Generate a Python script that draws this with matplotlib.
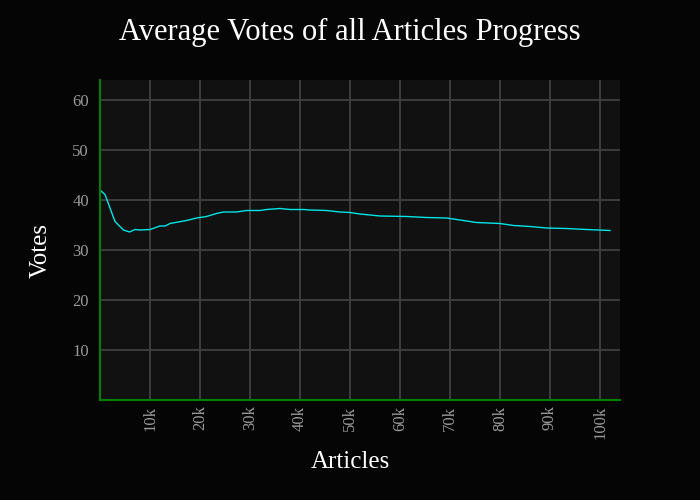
import numpy as np
import matplotlib
matplotlib.use("Agg")
import matplotlib.pyplot as plt

# Running average of votes (articles in thousands)
articles_k = [0.0, 1.0, 3.0, 4.7, 5.9, 7.0, 8.0, 10.0, 12.0, 13.0, 14.0, 17.3,
              19.3, 21.3, 23.3, 24.7, 27.3, 29.3, 32.0, 33.3, 36.0, 38.0, 40.7,
              42.0, 45.3, 48.0, 50.0, 52.0, 56.0, 61.3, 65.3, 69.3, 72.0, 75.3,
              80.0, 82.7, 86.0, 89.3, 93.3, 97.3, 102.0]
avg_votes = [42.0, 41.1, 35.7, 34.0, 33.6, 34.1, 34.0, 34.1, 34.8, 34.8, 35.3,
             35.9, 36.4, 36.7, 37.3, 37.6, 37.6, 37.9, 37.9, 38.1, 38.3, 38.1,
             38.1, 38.0, 37.9, 37.6, 37.5, 37.2, 36.8, 36.7, 36.5, 36.4, 36.0,
             35.5, 35.3, 34.9, 34.7, 34.4, 34.3, 34.1, 33.9]

x_ticks = [10, 20, 30, 40, 50, 60, 70, 80, 90, 100]
x_ticklabels = ["10k", "20k", "30k", "40k", "50k", "60k", "70k", "80k", "90k", "100k"]
y_ticks = [10, 20, 30, 40, 50, 60]

plt.rcParams['font.family'] = ['Liberation Serif', 'DejaVu Serif']

fig = plt.figure(figsize=(7, 5), dpi=100, facecolor='#050505')
ax = fig.add_axes([100 / 700, 100 / 500, 520 / 700, 320 / 500])
ax.set_facecolor('#111111')

ax.plot(np.array(articles_k), avg_votes, color='#00e5e5', lw=1.0)

ax.set_xlim(0, 104)
ax.set_ylim(0, 64)
ax.set_xticks(x_ticks)
ax.set_xticklabels(x_ticklabels, rotation=90)
ax.set_yticks(y_ticks)
ax.grid(True, color='#444444', lw=1.2)
ax.set_axisbelow(True)
ax.tick_params(colors='#999999', labelsize=12, length=0)
ax.tick_params(axis='x', pad=4)
ax.tick_params(axis='y', pad=8)

for side in ['top', 'right']:
    ax.spines[side].set_visible(False)
for side in ['left', 'bottom']:
    ax.spines[side].set_color('#008000')
    ax.spines[side].set_linewidth(1.5)

ax.set_xlabel("Articles", color='white', fontsize=18)
ax.xaxis.set_label_coords(250 / 520, -51 / 320)
ax.set_ylabel("Votes", color='white', fontsize=18)
ax.yaxis.set_label_coords(-48 / 520, 150 / 320)
fig.text(350 / 700, 1 - 32 / 500, "Average Votes of all Articles Progress",
         color='white', fontsize=22, ha='center', va='center')

fig.savefig("out.png", dpi=100, facecolor=fig.get_facecolor())
